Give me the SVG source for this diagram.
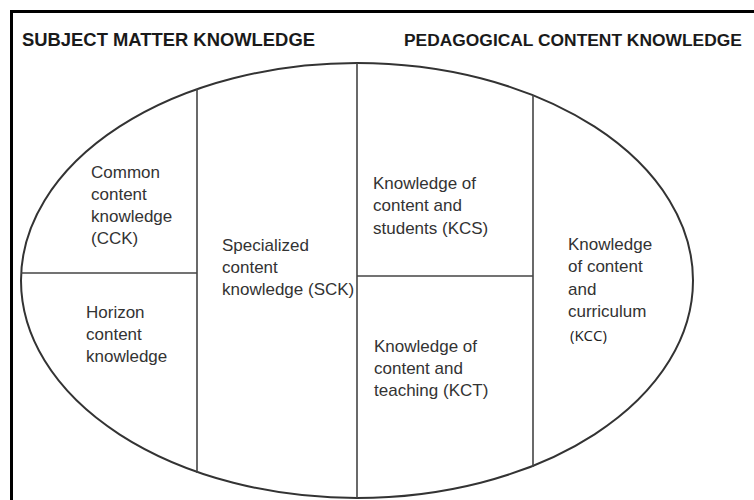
<svg xmlns="http://www.w3.org/2000/svg" width="754" height="500" viewBox="0 0 754 500">
<style>
.title{font-family:"Liberation Sans",Arial,sans-serif;font-weight:bold;font-size:18.3px;fill:#1a1a1a}
.lbl{font-family:"Liberation Sans",Arial,sans-serif;font-size:17px;fill:#333}
.kcc{font-family:"Open Sans",sans-serif;font-size:15px;fill:#222}
.div{stroke:#444;stroke-width:1.6;fill:none}
</style>
<rect x="0" y="0" width="754" height="500" fill="#fff"/>
<rect x="11.5" y="11.5" width="800" height="600" fill="none" stroke="#000" stroke-width="3"/>
<text class="title" x="22" y="46" textLength="293" lengthAdjust="spacingAndGlyphs">SUBJECT MATTER KNOWLEDGE</text>
<text class="title" x="404" y="46" style="font-size:17.4px">PEDAGOGICAL CONTENT KNOWLEDGE</text>
<g id="connectors">
<ellipse cx="357" cy="280.5" rx="336" ry="217.5" fill="none" stroke="#333" stroke-width="2"/>
<line class="div" x1="197" y1="89" x2="197" y2="473"/>
<line class="div" x1="357" y1="63" x2="357" y2="498"/>
<line class="div" x1="533" y1="95" x2="533" y2="467"/>
<line class="div" x1="21" y1="273" x2="197" y2="273"/>
<line class="div" x1="357" y1="276" x2="533" y2="276"/>
</g>
<g id="cck">
<text class="lbl" x="91" y="178">Common</text>
<text class="lbl" x="91" y="200">content</text>
<text class="lbl" x="91" y="222">knowledge</text>
<text class="lbl" x="91" y="244">(CCK)</text>
</g>
<g id="hck">
<text class="lbl" x="86" y="318">Horizon</text>
<text class="lbl" x="86" y="340">content</text>
<text class="lbl" x="86" y="362">knowledge</text>
</g>
<g id="sck">
<text class="lbl" x="222" y="251">Specialized</text>
<text class="lbl" x="222" y="273">content</text>
<text class="lbl" x="222" y="295">knowledge (SCK)</text>
</g>
<g id="kcs">
<text class="lbl" x="373" y="189">Knowledge of</text>
<text class="lbl" x="373" y="211">content and</text>
<text class="lbl" x="373" y="234">students (KCS)</text>
</g>
<g id="kct">
<text class="lbl" x="374" y="352">Knowledge of</text>
<text class="lbl" x="374" y="374">content and</text>
<text class="lbl" x="374" y="396">teaching (KCT)</text>
</g>
<g id="kcc">
<text class="lbl" x="568" y="250">Knowledge</text>
<text class="lbl" x="568" y="272">of content</text>
<text class="lbl" x="568" y="295">and</text>
<text class="lbl" x="568" y="317">curriculum</text>
<text class="kcc" x="570" y="341">(KCC)</text>
</g>
</svg>
